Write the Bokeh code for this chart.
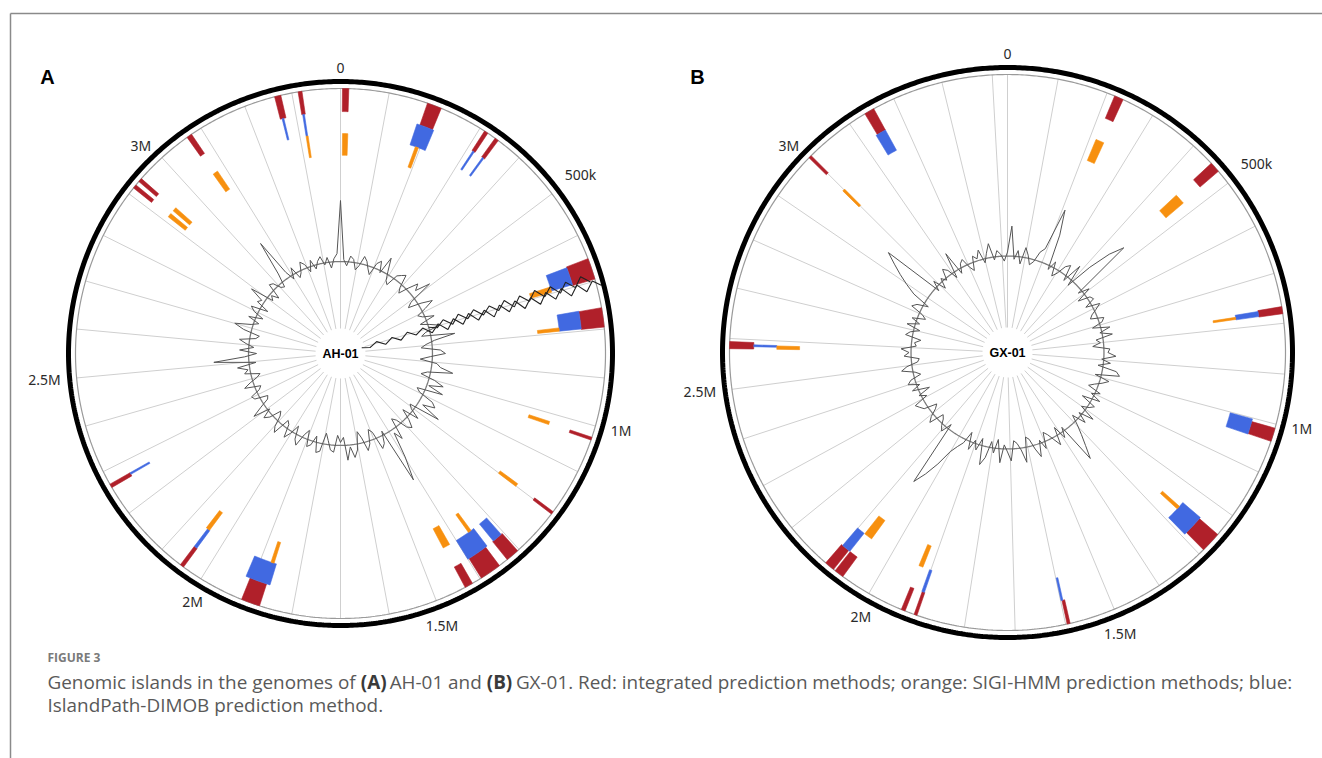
import math
from bokeh.plotting import figure
from bokeh.models import Range1d
from bokeh.core.properties import value
from bokeh.embed import file_html
from bokeh.resources import INLINE

# ---------------- data ----------------
genome_names = ["AH-01", "GX-01"]
genome_length_kb = [3400, 3430]
tick_kb = [0, 500, 1000, 1500, 2000, 2500, 3000]
tick_labels = ["0", "500k", "1M", "1.5M", "2M", "2.5M", "3M"]
grid_step_kb = 100

# Genomic islands, AH-01 (kb)
a_integrated_start = [4, 181, 311, 337, 652, 756, 1024, 1196, 1304, 1352, 1418, 1868, 2043, 2263, 2915, 2932, 3066, 3264, 3313]
a_integrated_end = [17, 211, 319, 345, 696, 796, 1030, 1202, 1332, 1397, 1435, 1907, 2051, 2271, 2923, 2940, 3077, 3277, 3321]
a_dimob_start = [174, 313, 339, 654, 755, 1307, 1348, 1860, 2044, 2267, 3268, 3315]
a_dimob_end = [214, 317, 343, 694, 795, 1330, 1400, 1917, 2051, 2271, 3272, 3319]
a_sigi_start = [5, 188, 684, 787, 1020, 1193, 1356, 1419, 1866, 2045, 2913, 2932, 3066, 3315]
a_sigi_end = [18, 196, 697, 795, 1028, 1201, 1364, 1437, 1874, 2055, 2923, 2942, 3079, 3320]

# Genomic islands, GX-01 (kb)
b_integrated_start = [216, 449, 767, 1008, 1247, 1591, 1896, 1921, 2061, 2084, 2580, 2996, 3136]
b_integrated_end = [234, 470, 781, 1035, 1288, 1597, 1902, 1929, 2080, 2104, 2594, 3002, 3156]
b_dimob_start = [769, 1002, 1244, 1595, 1897, 2081, 2585, 3133]
b_dimob_end = [780, 1036, 1293, 1599, 1903, 2101, 2589, 3156]
b_sigi_start = [215, 448, 774, 1256, 1920, 2059, 2580, 2996]
b_sigi_end = [235, 473, 779, 1264, 1930, 2079, 2588, 3002]

# GC deviation profile (one value per 2 degrees of the circle)
gc_a = [61, 2, -4, 6, 3, -7, -2, 8, 4, -3, -8, 5, 9, -2, 16, 3, -6, -9, 4, 7,
        10, -3, -8, 2, 12, 6, 21, -5, -10, 3, 14, 4, -6, -2, 9, -7, 2, 11, -4, -9,
        24, 3, -6, -11, 8, 13, -2, -12, 5, 9, 22, -3, -9, 6, 16, 2, 18, -8, -4, 12,
        17, 5, 26, -6, -2, 9, -8, 3, 11, 7, -5, -9, 13, 4, 30, 54, -4, 8, 12, -7,
        -11, 3, 9, -5, -12, 6, 13, 2, 15, -8, -3, -10, 7, 5, -4, -11, 8, 10, -6, 4,
        7, -9, -3, 10, 5, -8, 2, 9, -4, -7, 11, 6, -5, -9, 3, 8, -2, 15, 4, -6,
        -8, 5, 7, -3, -6, 10, 3, -5, -9, 6, 2, 12, -7, 35, 4, -8, 9, -5, 3, 10,
        -6, -9, 8, 18, 2, -5, 7, -7, 4, 9, -8, 6, 3, 18, -6, -2, -9, 7, 5, -3,
        -5, 9, 44, 6, -4, 7, -6, -2, 8, 4, -5, 6, -4, 3, 7, -2, 5, -6, 3, 8]
gc_b = [4, 30, -3, 6, -7, 10, 3, -6, -2, 9, 14, 57, 32, -4, 6, -8, -3, 7, 11, -5,
        16, -6, 22, 45, 60, -4, 7, -9, 3, 5, -6, 8, 2, -4, -7, 6, 3, -8, 9, -2,
        10, -7, -3, -11, 6, 4, 12, -2, 7, -5, 14, 18, -6, 9, 3, -4, -9, 5, -3, 8,
        -10, 6, 2, -5, 12, -3, 8, -6, 4, 14, 25, 38, -4, 6, -8, 10, 2, -5, -9, 7,
        -3, 13, 4, -7, -10, 15, 2, -5, -8, 12, 3, -4, 14, -9, 5, -6, 11, 19, -7, 6,
        -3, 8, -9, 4, 10, 18, 35, 50, 63, -5, 6, 2, -4, -7, 8, 3, -5, -9, 4, 7,
        10, -5, 2, -11, 6, -3, 8, 4, -7, -2, 11, 5, -6, -8, 7, 2, 10, -5, -3, -9,
        7, 3, -6, 8, -4, 5, -8, -3, 10, 6, -5, 14, 25, 36, 47, 59, -4, 6, -7, 3,
        -2, 9, 5, -6, 20, -5, 4, 7, -3, -8, 6, 2, 10, -4, 5, 14, -3, 6, 2, -5]

# stray trace segment drawn across panel A (radius, sideways offset)
stray_r = [22, 30, 38, 46, 54, 62, 70, 78, 86, 94, 102, 110, 118, 126, 134, 142,
           150, 158, 166, 174, 182, 190, 198, 206, 214, 222, 230, 238, 246, 254, 262, 270]
stray_off = [0, 2, -2, 3, -2, 3, -3, 2, -3, 4, -3, 5, -4, 4, -5, 4,
             -4, 5, -5, 4, -5, 5, -4, 5, -5, 4, -5, 5, -4, 5, -4, 3]
stray2_r = [92, 100, 108, 116, 124, 132, 140, 148, 156, 164, 172, 180, 188, 196, 204,
            212, 220, 228, 236, 244, 252, 260]
stray2_off = [0, 3, -3, 4, -4, 3, -4, 4, -3, 4, -4, 5, -4, 4, -5, 4, -4, 5, -4, 4, -5, 3]

# ---------------- style ----------------
RED = "#b0202a"
BLUE = "#4169e1"
ORANGE = "#f7900f"
panels = [
    dict(cx=340, cy=353, R=272, Rg=265, letter="A", lx=47,
         tracks=[(a_integrated_start, a_integrated_end, RED, 0.913, 1.0),
                 (a_dimob_start, a_dimob_end, BLUE, 0.83, 0.913),
                 (a_sigi_start, a_sigi_end, ORANGE, 0.748, 0.83)],
         gc=gc_a),
    dict(cx=1007, cy=352, R=285, Rg=278, letter="B", lx=697,
         tracks=[(b_integrated_start, b_integrated_end, RED, 0.913, 1.0),
                 (b_dimob_start, b_dimob_end, BLUE, 0.83, 0.913),
                 (b_sigi_start, b_sigi_end, ORANGE, 0.748, 0.83)],
         gc=gc_b),
]

p = figure(width=1322, height=758, x_range=Range1d(0, 1322), y_range=Range1d(758, 0),
           output_backend="svg", toolbar_location=None, min_border=0,
           x_axis_location=None, y_axis_location=None, background_fill_color="white")
p.grid.visible = False
p.outline_line_color = None


def pt(cx, cy, r, deg):
    t = math.radians(deg)
    return cx + r * math.sin(t), cy - r * math.cos(t)


# frame of the figure
p.line([10, 1322], [13, 13], line_color="#8a8a8a", line_width=1.5)
p.line([10, 10], [13, 758], line_color="#8a8a8a", line_width=1.5)

for gi, pn in enumerate(panels):
    cx, cy, R, Rg = pn["cx"], pn["cy"], pn["R"], pn["Rg"]
    L = genome_length_kb[gi]

    # spokes every 100 kb
    xs0, ys0, xs1, ys1 = [], [], [], []
    k = 0
    while k < L:
        a = k / L * 360.0
        x0, y0 = pt(cx, cy, 25, a)
        x1, y1 = pt(cx, cy, Rg, a)
        xs0.append(x0); ys0.append(y0); xs1.append(x1); ys1.append(y1)
        k += grid_step_kb
    p.segment(xs0, ys0, xs1, ys1, line_color="#cfcfcf", line_width=1)

    # rings
    ang = [i * 0.5 for i in range(721)]
    gx = [pt(cx, cy, Rg, a)[0] for a in ang]
    gy = [pt(cx, cy, Rg, a)[1] for a in ang]
    p.line(gx, gy, line_color="#9a9a9a", line_width=1.2)
    bx = [pt(cx, cy, R, a)[0] for a in ang]
    by = [pt(cx, cy, R, a)[1] for a in ang]
    p.line(bx, by, line_color="black", line_width=5)

    # GC baseline circle + trace
    r_gc = 0.347 * Rg
    cx_ = [pt(cx, cy, r_gc, a)[0] for a in ang]
    cy_ = [pt(cx, cy, r_gc, a)[1] for a in ang]
    p.line(cx_, cy_, line_color="#7a7a7a", line_width=1.3)
    gc = pn["gc"]
    n = len(gc)
    tx, ty = [], []
    for i in range(n + 1):
        v = gc[i % n]
        x, y = pt(cx, cy, r_gc + v, i * 360.0 / n)
        tx.append(x); ty.append(y)
    p.line(tx, ty, line_color="#555555", line_width=1)

    # island tracks
    for starts, ends, color, f0, f1 in pn["tracks"]:
        pxs, pys = [], []
        for s, e in zip(starts, ends):
            a0 = s / L * 360.0
            a1 = e / L * 360.0
            m = max(2, int((a1 - a0) / 0.25) + 2)
            arc = [a0 + (a1 - a0) * j / (m - 1) for j in range(m)]
            xs = [pt(cx, cy, Rg * f1, a)[0] for a in arc] + [pt(cx, cy, Rg * f0, a)[0] for a in arc[::-1]]
            ys = [pt(cx, cy, Rg * f1, a)[1] for a in arc] + [pt(cx, cy, Rg * f0, a)[1] for a in arc[::-1]]
            pxs.append(xs); pys.append(ys)
        p.patches(pxs, pys, fill_color=color, line_color=color, line_width=0.6)

    # tick labels
    for tv, tl in zip(tick_kb, tick_labels):
        a = tv / L * 360.0
        x, y = pt(cx, cy, R + 9, a)
        s, c = math.sin(math.radians(a)), math.cos(math.radians(a))
        if abs(c) > 0.8:
            align = "center"
        else:
            align = "left" if s > 0 else "right"
        if c > 0.8 or (c > 0.5 and s > 0):
            base = "bottom"
        elif c < -0.8:
            base = "top"
        else:
            base = "middle"
        p.text([x], [y], text=[tl], text_font=value("Noto Sans"), text_font_size=value("14px"),
               text_color="#2a2a2a", text_align=align, text_baseline=base)

    # centre label
    p.text([cx], [cy], text=[genome_names[gi]], text_font=value("Liberation Sans"),
           text_font_style="bold", text_font_size=value("12.5px"), text_color="black",
           text_align="center", text_baseline="middle")

    # panel letter
    p.text([pn["lx"]], [76], text=[pn["letter"]], text_font=value("Liberation Sans"),
           text_font_style="bold", text_font_size=value("20px"), text_color="black",
           text_align="center", text_baseline="middle")

# stray zig-zag lines in panel A
pa = panels[0]
for rr, oo, ang0 in [(stray_r, stray_off, 74.8), (stray2_r, stray2_off, 73.4)]:
    t = math.radians(ang0)
    zx = [pa["cx"] + r * math.sin(t) + o * math.cos(t) for r, o in zip(rr, oo)]
    zy = [pa["cy"] - r * math.cos(t) + o * math.sin(t) for r, o in zip(rr, oo)]
    p.line(zx, zy, line_color="#222222", line_width=1.1)

# ---------------- caption ----------------
W = {' ': 532, '(': 563, ')': 563, '-': 659, '.': 545, ':': 545, ';': 545,
     'A': 1296, 'B': 1327, 'D': 1493, 'G': 1446, 'H': 1511, 'I': 621, 'M': 1849, 'O': 1595,
     'P': 1233, 'R': 1300, 'S': 1087, 'X': 1212,
     'a': 1139, 'b': 1255, 'c': 975, 'd': 1255, 'e': 1149, 'f': 694, 'g': 1122, 'h': 1257,
     'i': 518, 'l': 518, 'm': 1905, 'n': 1257, 'o': 1237, 'p': 1255, 'r': 836, 's': 977,
     't': 723, 'u': 1257, 'v': 1032, 'w': 1565}


def tw(s, size, bold=False):
    return sum(W.get(ch, 1171) for ch in s) / 2048.0 * size * (1.07 if bold else 1.0)


cap_size = 18.9
cap_font = value("Open Sans")
cap_color = "#595959"
p.text([47], [657], text=["FIGURE 3"], text_font=cap_font, text_font_size=value("12px"),
       text_font_style="bold", text_color="#7a7a7a", text_align="left", text_baseline="middle")

segs = [("Genomic islands in the genomes of", False), ("(A)", True), ("AH-01 and", False),
        ("(B)", True), ("GX-01. Red: integrated prediction methods; orange: SIGI-HMM prediction methods; blue:", False)]
x = 47
space = tw(" ", cap_size)
for s, b in segs:
    p.text([x], [681], text=[s], text_font=cap_font, text_font_size=value(f"{cap_size}px"),
           text_font_style="bold" if b else "normal", text_color="#3a3a3a" if b else cap_color,
           text_align="left", text_baseline="middle")
    x += tw(s, cap_size, b) + space
p.text([47], [704], text=["IslandPath-DIMOB prediction method."], text_font=cap_font,
       text_font_size=value(f"{cap_size}px"), text_color=cap_color, text_align="left", text_baseline="middle")

open("out.html", "w").write(file_html(p, INLINE))
